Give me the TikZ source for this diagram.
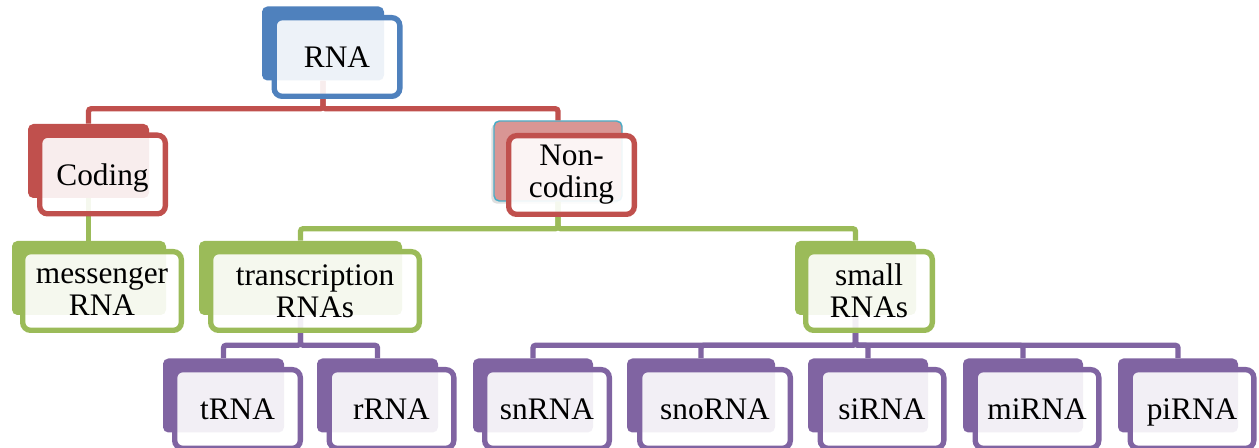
\documentclass[tikz,border=0pt]{standalone}
\usepackage{fontspec}
\setmainfont{Liberation Serif}
\usepackage{tikz}
\usetikzlibrary{shadows}

\definecolor{rnablue}{HTML}{4F81BD}
\definecolor{rnared}{HTML}{C0504D}
\definecolor{rnapink}{HTML}{D99694}
\definecolor{rnateal}{HTML}{4BACC6}
\definecolor{rnagreen}{HTML}{9BBB59}
\definecolor{rnapurple}{HTML}{8064A2}

\tikzset{
  back/.style={fill=#1, rounded corners=4pt, inner sep=0pt, minimum height=55.5pt},
  front/.style={draw=#1, line width=4pt, rounded corners=6pt, fill=white, fill opacity=0.9, text opacity=1,
    inner sep=0pt, minimum height=59pt, align=center, font=\fontsize{23.5}{24}\selectfont},
  link/.style={draw=#1, line width=4pt, rounded corners=2pt}
}

\begin{document}
\begin{tikzpicture}[x=0.75pt,y=0.75pt,yscale=-1,xscale=1]
\path[use as bounding box] (0,0) rectangle (1259,448);

%Rounded Rect (back) 
\node[back=rnablue, minimum width=91.5pt] (rna) at (323,43.5) {};
\node[back=rnared, minimum width=90.75pt] (coding) at (88.5,161) {};
\node[back=rnapink, draw=rnateal, line width=1.1pt, minimum width=96pt, minimum height=60pt,
  drop shadow={shadow xshift=-2pt, shadow yshift=-2pt, opacity=0.25}] (noncoding) at (558,161) {};
\node[back=rnagreen, minimum width=115.5pt] (messenger) at (89,278) {};
\node[back=rnagreen, minimum width=152.25pt] (transcription) at (300.5,278) {};
\node[back=rnagreen, minimum width=90.75pt] (small) at (855.5,278) {};
\node[back=rnapurple, minimum width=90.75pt] (trna) at (223.5,395.5) {};
\node[back=rnapurple, minimum width=90.75pt] (rrna) at (377.5,395.5) {};
\node[back=rnapurple, minimum width=90pt] (snrna) at (533,395.5) {};
\node[back=rnapurple, minimum width=111pt] (snorna) at (701,395.5) {};
\node[back=rnapurple, minimum width=90pt] (sirna) at (868,395.5) {};
\node[back=rnapurple, minimum width=90pt] (mirna) at (1023,395.5) {};
\node[back=rnapurple, minimum width=90pt] (pirna) at (1178,395.5) {};

%Straight Lines 
\draw[link=rnared] (rna.south) -- ++(0,28) -| (coding.north);
\draw[link=rnared] (rna.south) -- ++(0,28) -| (noncoding.north);
\draw[link=rnagreen] (coding.south) -- (coding.south |- messenger.north);
\draw[link=rnagreen] (noncoding.south) -- ++(0,27) -| (transcription.north);
\draw[link=rnagreen] (noncoding.south) -- ++(0,27) -| (small.north);
\draw[link=rnapurple] (transcription.south) -- ++(0,30) -| (trna.north);
\draw[link=rnapurple] (transcription.south) -- ++(0,30) -| (rrna.north);
\foreach \c in {snrna,snorna,sirna,mirna,pirna}
  \draw[link=rnapurple] (small.south) -- ++(0,30) -| (\c.north);

%Rounded Rect (front) 
\node[front=rnablue, minimum width=94.25pt] (rna-f) at ([shift={(14,13.5)}]rna.center) {RNA};
\node[front=rnared, minimum width=94.25pt, text depth=0pt] (coding-f) at ([shift={(14,13.5)}]coding.center) {Coding};
\node[front=rnared, minimum width=94.25pt] (noncoding-f) at ([shift={(13.5,14)}]noncoding.center) {Non-\\coding};
\node[front=rnagreen, minimum width=119pt] (messenger-f) at ([shift={(13,13)}]messenger.center) {messenger\\RNA};
\node[front=rnagreen, minimum width=156.5pt] (transcription-f) at ([shift={(14.5,13)}]transcription.center) {transcription\\RNAs};
\node[front=rnagreen, minimum width=95pt] (small-f) at ([shift={(13.5,13)}]small.center) {small\\RNAs};
\node[front=rnapurple, minimum width=94.25pt] (trna-f) at ([shift={(14,13.5)}]trna.center) {tRNA};
\node[front=rnapurple, minimum width=93.5pt] (rrna-f) at ([shift={(14,13.5)}]rrna.center) {rRNA};
\node[front=rnapurple, minimum width=93.5pt] (snrna-f) at ([shift={(14,13.5)}]snrna.center) {snRNA};
\node[front=rnapurple, minimum width=113pt] (snorna-f) at ([shift={(14,13.5)}]snorna.center) {snoRNA};
\node[front=rnapurple, minimum width=92.75pt] (sirna-f) at ([shift={(14,13.5)}]sirna.center) {siRNA};
\node[front=rnapurple, minimum width=92.75pt] (mirna-f) at ([shift={(14,13.5)}]mirna.center) {miRNA};
\node[front=rnapurple, minimum width=92.75pt, text depth=0pt] (pirna-f) at ([shift={(14,13.5)}]pirna.center) {piRNA};
\end{tikzpicture}
\end{document}
